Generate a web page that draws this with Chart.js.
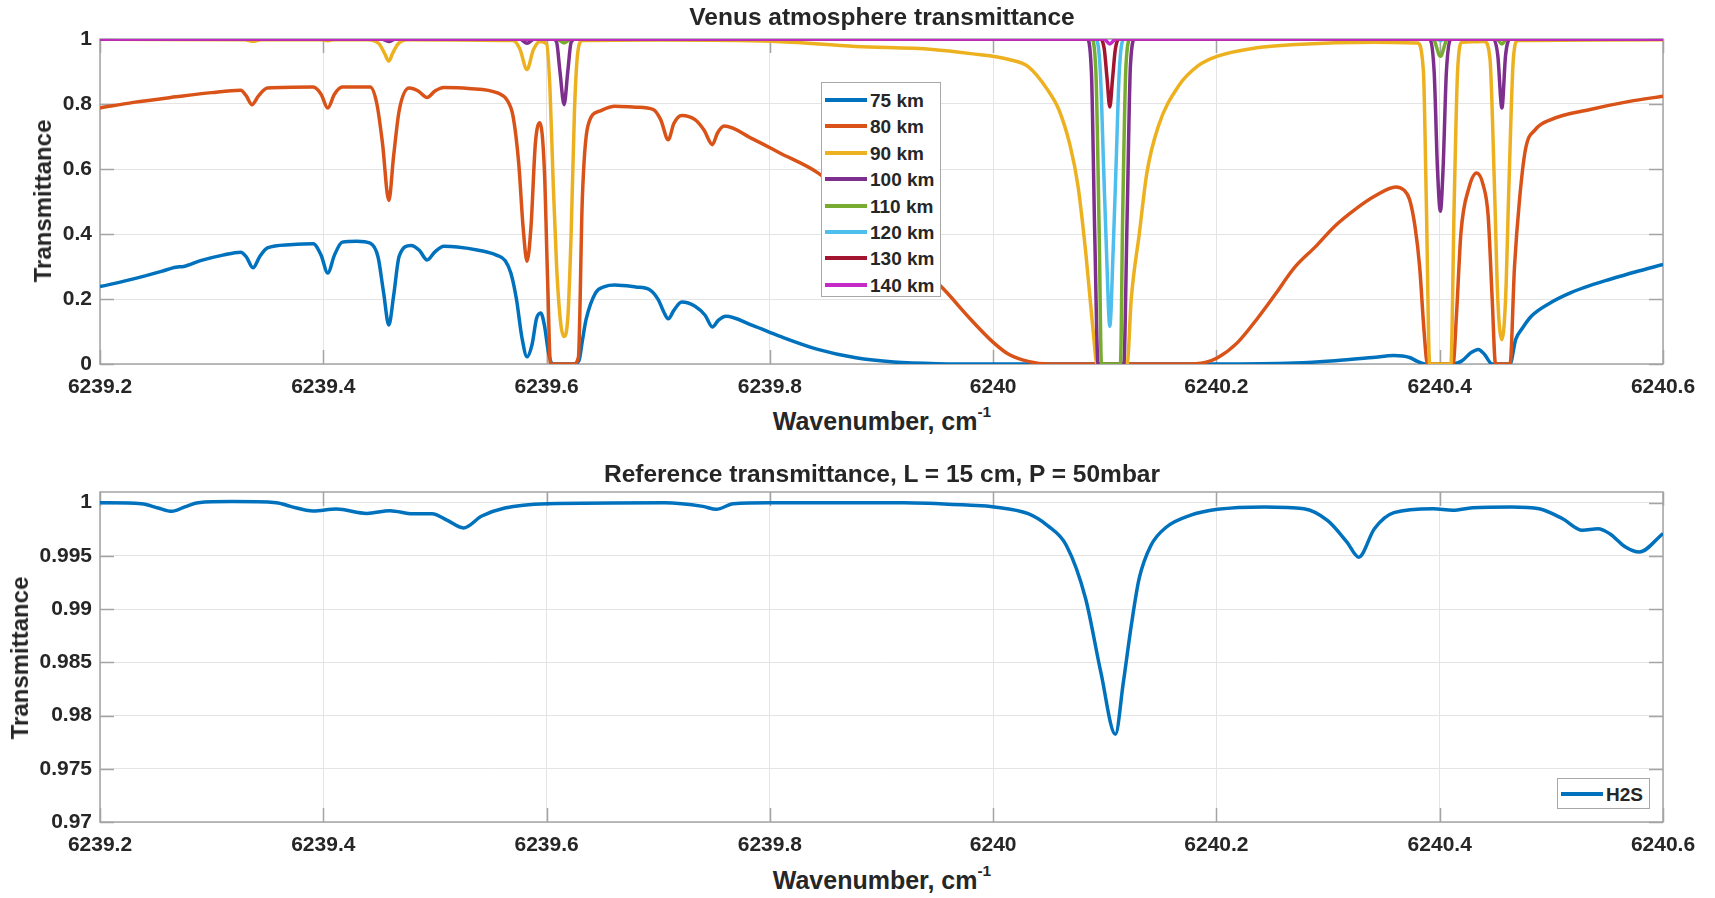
<!DOCTYPE html>
<html>
<head>
<meta charset="utf-8">
<script src="https://cdn.jsdelivr.net/npm/chart.js@4.4.1/dist/chart.umd.min.js"></script>
<style>
  html, body { margin: 0; padding: 0; background: #fff; }
  body {
    width: 1715px; height: 898px; position: relative; overflow: hidden;
    font-family: 'Liberation Sans', Arial, Helvetica, sans-serif;
    font-weight: bold; color: #262626;
  }
  canvas { position: absolute; left: 0; }
  .t { position: absolute; white-space: nowrap; transform: translate(-50%, -50%); line-height: 1; }
  .rot { transform: translate(-50%, -50%) rotate(-90deg); }
  sup { font-size: 62%; vertical-align: 0.8em; line-height: 0; }
  .legend { position: absolute; background: #fff; border: 1px solid #a8a8a8; box-sizing: border-box; }
  .swatch { position: absolute; height: 4px; }
  .lab { position: absolute; font-size: 19px; line-height: 1; transform: translateY(-50%); white-space: nowrap; }
</style>
</head>
<body>
<canvas id="venus" width="1715" height="400" style="top:0"></canvas>
<canvas id="reference" width="1715" height="398" style="top:460px"></canvas>

<div class="t" style="left:882px; top:17px; font-size:24.5px">Venus atmosphere transmittance</div>
<div class="t" style="left:882px; top:421px; font-size:25px">Wavenumber, cm<sup>-1</sup></div>
<div class="t rot" style="left:43px; top:201px; font-size:24px">Transmittance</div>

<div class="t" style="left:882px; top:474px; font-size:24.5px">Reference transmittance, L = 15 cm, P = 50mbar</div>
<div class="t" style="left:882px; top:880px; font-size:25px">Wavenumber, cm<sup>-1</sup></div>
<div class="t rot" style="left:20px; top:658px; font-size:24px">Transmittance</div>

<div id="legendVenus" class="legend" style="left:821px; top:82px; width:120px; height:215px"></div>
<div id="legendRef" class="legend" style="left:1557px; top:778px; width:93px; height:31px"></div>

<script>
// ---- axes ----
const xTickValues = [6239.2, 6239.4, 6239.6, 6239.8, 6240.0, 6240.2, 6240.4, 6240.6];
const xTickLabels = ['6239.2', '6239.4', '6239.6', '6239.8', '6240', '6240.2', '6240.4', '6240.6'];
const yTickValuesVenus = [0, 0.2, 0.4, 0.6, 0.8, 1];
const yTickLabelsVenus = ['0', '0.2', '0.4', '0.6', '0.8', '1'];
const yTickValuesRef = [0.97, 0.975, 0.98, 0.985, 0.99, 0.995, 1];
const yTickLabelsRef = ['0.97', '0.975', '0.98', '0.985', '0.99', '0.995', '1'];

// ---- series: [wavenumber (cm^-1), transmittance] ----
const km75 = [
  [6239.200, 0.238], [6239.230, 0.262], [6239.255, 0.285], [6239.268, 0.298], [6239.275, 0.300],
  [6239.290, 0.318], [6239.310, 0.335], [6239.326, 0.344], [6239.331, 0.330], [6239.337, 0.296],
  [6239.343, 0.330], [6239.350, 0.357], [6239.370, 0.367], [6239.391, 0.370], [6239.398, 0.335],
  [6239.404, 0.280], [6239.410, 0.335], [6239.417, 0.375], [6239.430, 0.378], [6239.442, 0.372],
  [6239.449, 0.330], [6239.454, 0.220], [6239.4587, 0.120], [6239.463, 0.210], [6239.468, 0.332],
  [6239.4786, 0.365], [6239.486, 0.350], [6239.493, 0.320], [6239.500, 0.345], [6239.508, 0.362],
  [6239.520, 0.360], [6239.539, 0.350], [6239.555, 0.335], [6239.563, 0.318], [6239.568, 0.280],
  [6239.573, 0.200], [6239.578, 0.080], [6239.5825, 0.022], [6239.587, 0.060], [6239.591, 0.140],
  [6239.5948, 0.157], [6239.598, 0.120], [6239.602, 0.030], [6239.6054, 0.000], [6239.624, 0.000],
  [6239.629, 0.010], [6239.632, 0.070], [6239.6354, 0.137], [6239.6439, 0.219], [6239.652, 0.238],
  [6239.661, 0.243], [6239.680, 0.237], [6239.692, 0.229], [6239.700, 0.198], [6239.705, 0.160],
  [6239.709, 0.139], [6239.714, 0.165], [6239.721, 0.191], [6239.733, 0.178], [6239.742, 0.150],
  [6239.7485, 0.114], [6239.754, 0.135], [6239.7605, 0.147], [6239.785, 0.118], [6239.8085, 0.086],
  [6239.843, 0.045], [6239.877, 0.019], [6239.911, 0.006], [6239.950, 0.001], [6240.000, 0.000],
  [6240.200, 0.000], [6240.270, 0.003], [6240.306, 0.010], [6240.340, 0.020], [6240.359, 0.026],
  [6240.373, 0.020], [6240.380, 0.008], [6240.387, 0.000], [6240.412, 0.000], [6240.420, 0.010],
  [6240.428, 0.035], [6240.4346, 0.045], [6240.440, 0.030], [6240.447, 0.000], [6240.463, 0.000],
  [6240.468, 0.075], [6240.474, 0.110], [6240.482, 0.147], [6240.500, 0.190], [6240.517, 0.219],
  [6240.535, 0.242], [6240.552, 0.260], [6240.575, 0.283], [6240.600, 0.306]
];
const km80 = [
  [6239.200, 0.788], [6239.230, 0.805], [6239.268, 0.822], [6239.300, 0.835], [6239.326, 0.842],
  [6239.331, 0.825], [6239.336, 0.798], [6239.342, 0.825], [6239.350, 0.849], [6239.391, 0.852],
  [6239.398, 0.830], [6239.404, 0.788], [6239.410, 0.830], [6239.417, 0.852], [6239.442, 0.852],
  [6239.448, 0.800], [6239.453, 0.680], [6239.4587, 0.503], [6239.463, 0.640], [6239.468, 0.780],
  [6239.477, 0.849], [6239.485, 0.840], [6239.493, 0.820], [6239.500, 0.840], [6239.508, 0.851],
  [6239.530, 0.848], [6239.556, 0.834], [6239.565, 0.810], [6239.570, 0.762], [6239.575, 0.620],
  [6239.579, 0.420], [6239.5825, 0.316], [6239.586, 0.420], [6239.590, 0.680], [6239.594, 0.742],
  [6239.598, 0.600], [6239.601, 0.250], [6239.6035, 0.000], [6239.6243, 0.000], [6239.6285, 0.020],
  [6239.632, 0.506], [6239.637, 0.732], [6239.6474, 0.778], [6239.661, 0.793], [6239.680, 0.790],
  [6239.6957, 0.783], [6239.7022, 0.752], [6239.709, 0.690], [6239.714, 0.740], [6239.721, 0.765],
  [6239.733, 0.752], [6239.741, 0.720], [6239.7485, 0.675], [6239.753, 0.710], [6239.759, 0.732],
  [6239.785, 0.692], [6239.8085, 0.650], [6239.843, 0.588], [6239.880, 0.480], [6239.920, 0.350],
  [6239.956, 0.229], [6239.980, 0.137], [6240.0006, 0.065], [6240.0143, 0.029], [6240.0314, 0.008],
  [6240.050, 0.000], [6240.170, 0.000], [6240.190, 0.005], [6240.201, 0.019], [6240.2186, 0.065],
  [6240.236, 0.137], [6240.2537, 0.219], [6240.264, 0.270], [6240.271, 0.301], [6240.289, 0.362],
  [6240.306, 0.424], [6240.324, 0.475], [6240.3415, 0.516], [6240.3607, 0.545], [6240.368, 0.535],
  [6240.373, 0.506], [6240.378, 0.420], [6240.382, 0.300], [6240.386, 0.100], [6240.389, 0.000],
  [6240.412, 0.000], [6240.415, 0.150], [6240.419, 0.403], [6240.426, 0.540], [6240.433, 0.588],
  [6240.439, 0.550], [6240.4434, 0.455], [6240.447, 0.200], [6240.450, 0.000], [6240.463, 0.000],
  [6240.467, 0.300], [6240.4715, 0.506], [6240.4768, 0.660], [6240.4856, 0.721], [6240.4997, 0.752],
  [6240.5348, 0.783], [6240.570, 0.808], [6240.600, 0.824]
];
const km90 = [
  [6239.200, 0.999], [6239.330, 0.998], [6239.337, 0.993], [6239.344, 0.998], [6239.398, 0.998],
  [6239.404, 0.995], [6239.410, 0.998], [6239.440, 0.998], [6239.450, 0.985], [6239.455, 0.955],
  [6239.4587, 0.932], [6239.462, 0.955], [6239.467, 0.985], [6239.475, 0.998], [6239.570, 0.995],
  [6239.576, 0.970], [6239.5825, 0.906], [6239.588, 0.965], [6239.594, 0.992], [6239.600, 0.985],
  [6239.603, 0.850], [6239.606, 0.550], [6239.609, 0.300], [6239.6125, 0.130], [6239.6155, 0.085],
  [6239.619, 0.140], [6239.622, 0.400], [6239.625, 0.780], [6239.628, 0.960], [6239.632, 0.995],
  [6239.700, 0.997], [6239.8016, 0.993], [6239.877, 0.977], [6239.9457, 0.968], [6239.980, 0.955],
  [6240.0143, 0.937], [6240.0314, 0.915], [6240.0485, 0.845], [6240.0588, 0.783], [6240.069, 0.671],
  [6240.076, 0.548], [6240.083, 0.341], [6240.0897, 0.097], [6240.093, 0.000], [6240.120, 0.000],
  [6240.1237, 0.200], [6240.131, 0.403], [6240.1377, 0.588], [6240.148, 0.732], [6240.166, 0.855],
  [6240.1834, 0.917], [6240.201, 0.947], [6240.236, 0.973], [6240.271, 0.983], [6240.3415, 0.990],
  [6240.380, 0.988], [6240.3854, 0.900], [6240.388, 0.500], [6240.391, 0.000], [6240.410, 0.000],
  [6240.413, 0.500], [6240.416, 0.900], [6240.420, 0.990], [6240.440, 0.992], [6240.445, 0.940],
  [6240.449, 0.550], [6240.452, 0.200], [6240.4557, 0.075], [6240.459, 0.200], [6240.462, 0.550],
  [6240.466, 0.940], [6240.470, 0.995], [6240.600, 0.998]
];
const km100 = [
  [6239.200, 1.000], [6239.452, 1.000], [6239.4587, 0.992], [6239.465, 1.000], [6239.576, 1.000],
  [6239.5825, 0.987], [6239.589, 1.000], [6239.606, 1.000], [6239.609, 0.990], [6239.612, 0.900],
  [6239.6157, 0.798], [6239.619, 0.900], [6239.622, 0.990], [6239.626, 1.000], [6240.084, 1.000],
  [6240.088, 0.900], [6240.091, 0.400], [6240.094, 0.000], [6240.117, 0.000], [6240.120, 0.450],
  [6240.123, 0.920], [6240.127, 1.000], [6240.390, 1.000], [6240.395, 0.900], [6240.398, 0.600],
  [6240.4006, 0.470], [6240.403, 0.600], [6240.406, 0.900], [6240.411, 1.000], [6240.448, 1.000],
  [6240.452, 0.950], [6240.4557, 0.788], [6240.459, 0.950], [6240.463, 1.000], [6240.600, 1.000]
];
const km110 = [
  [6239.200, 1.000], [6239.609, 1.000], [6239.6157, 0.988], [6239.622, 1.000], [6240.088, 1.000],
  [6240.092, 0.900], [6240.095, 0.400], [6240.097, 0.000], [6240.114, 0.000], [6240.116, 0.450],
  [6240.119, 0.920], [6240.123, 1.000], [6240.394, 1.000], [6240.4006, 0.947], [6240.407, 1.000],
  [6240.451, 1.000], [6240.4557, 0.985], [6240.460, 1.000], [6240.600, 1.000]
];
const km120 = [
  [6239.200, 1.000], [6240.092, 1.000], [6240.096, 0.900], [6240.099, 0.600], [6240.1015, 0.350],
  [6240.1045, 0.116], [6240.1075, 0.350], [6240.110, 0.600], [6240.113, 0.900], [6240.117, 1.000],
  [6240.397, 1.000], [6240.4006, 0.995], [6240.404, 1.000], [6240.600, 1.000]
];
const km130 = [
  [6239.200, 1.000], [6240.096, 1.000], [6240.0995, 0.970], [6240.102, 0.880], [6240.1045, 0.791],
  [6240.107, 0.880], [6240.1095, 0.970], [6240.113, 1.000], [6240.600, 1.000]
];
const km140 = [
  [6239.200, 1.000], [6240.099, 1.000], [6240.1045, 0.985], [6240.110, 1.000], [6240.600, 1.000]
];
const h2s = [
  [6239.200, 1.0000], [6239.237, 0.9999], [6239.252, 0.9995], [6239.2643, 0.99918], [6239.276, 0.9996],
  [6239.288, 1.0000], [6239.318, 1.0001], [6239.358, 1.0000], [6239.3706, 0.99965], [6239.391, 0.99922],
  [6239.4117, 0.9994], [6239.4391, 0.99899], [6239.4597, 0.99925], [6239.4803, 0.99896], [6239.4974, 0.99896],
  [6239.5112, 0.99833], [6239.5255, 0.99762], [6239.542, 0.99875], [6239.5626, 0.9995], [6239.6003, 0.9999],
  [6239.7056, 1.0000], [6239.740, 0.99965], [6239.752, 0.99937], [6239.7673, 0.9999], [6239.800, 1.0000],
  [6239.920, 1.0000], [6239.980, 0.99975], [6240.0006, 0.9996], [6240.0314, 0.99896], [6240.0485, 0.99786],
  [6240.0656, 0.99598], [6240.0828, 0.9910], [6240.0965, 0.98405], [6240.1095, 0.97824], [6240.1166, 0.9831],
  [6240.1237, 0.98844], [6240.1307, 0.99284], [6240.1413, 0.99598], [6240.1553, 0.99771], [6240.1764, 0.9988],
  [6240.201, 0.99937], [6240.2431, 0.9996], [6240.2783, 0.99943], [6240.2994, 0.99833], [6240.3169, 0.9963],
  [6240.3274, 0.99488], [6240.3415, 0.99755], [6240.359, 0.99906], [6240.3942, 0.99943], [6240.4118, 0.99928],
  [6240.4293, 0.99953], [6240.4645, 0.9996], [6240.4891, 0.99943], [6240.5101, 0.99849], [6240.5278, 0.9974],
  [6240.5418, 0.99755], [6240.5523, 0.99708], [6240.5664, 0.99583], [6240.5787, 0.99536], [6240.600, 0.9971]
];

const venusSeries = [km75, km80, km90, km100, km110, km120, km130, km140];
const venusLabels = ['75 km', '80 km', '90 km', '100 km', '110 km', '120 km', '130 km', '140 km'];
const venusColors = ['#0072BD', '#D95319', '#EDB120', '#7E2F8E', '#77AC30', '#4DBEEE', '#A2142F', '#C62AC6'];
const refLabels = ['H2S'];
const refColors = ['#0072BD'];

// ---- drawing helpers ----
const FONT = "'Liberation Sans', Arial, Helvetica, sans-serif";
const TEXT = '#262626';

// Box around the plot area with short inward tick marks on all four sides.
const axesFrame = {
  id: 'axesFrame',
  beforeDatasetsDraw(chart) {
    const { ctx, chartArea: a, scales: { x, y } } = chart;
    const L = 14;
    ctx.save();
    ctx.strokeStyle = '#a4a4a4';
    ctx.lineWidth = 1.5;
    ctx.beginPath();
    x.ticks.forEach(t => {
      const px = Math.round(x.getPixelForValue(t.value)) + 0.5;
      ctx.moveTo(px, a.bottom); ctx.lineTo(px, a.bottom - L);
      ctx.moveTo(px, a.top); ctx.lineTo(px, a.top + L);
    });
    y.ticks.forEach(t => {
      const py = Math.round(y.getPixelForValue(t.value)) + 0.5;
      ctx.moveTo(a.left, py); ctx.lineTo(a.left + L, py);
      ctx.moveTo(a.right, py); ctx.lineTo(a.right - L, py);
    });
    ctx.stroke();
    ctx.strokeRect(a.left, a.top, a.right - a.left, a.bottom - a.top);
    ctx.restore();
  }
};

function toPoints(pairs) { return pairs.map(p => ({ x: p[0], y: p[1] })); }

function makeChart(canvasId, series, labels, colors, yCfg, padTop) {
  const datasets = series.map((s, i) => ({
    label: labels[i],
    data: toPoints(s),
    borderColor: colors[i],
    backgroundColor: colors[i],
    borderWidth: 3.5,
    pointRadius: 0,
    fill: false,
    cubicInterpolationMode: 'monotone',
    order: series.length - i   // later altitudes are drawn on top
  }));
  return new Chart(document.getElementById(canvasId), {
    type: 'line',
    data: { datasets },
    options: {
      responsive: false,
      animation: false,
      devicePixelRatio: 1,
      events: [],
      layout: { padding: { top: padTop, right: 52, bottom: 0, left: 0 } },
      plugins: { legend: { display: false }, tooltip: { enabled: false }, title: { display: false } },
      scales: {
        x: {
          type: 'linear',
          min: xTickValues[0],
          max: xTickValues[xTickValues.length - 1],
          afterBuildTicks: sc => { sc.ticks = xTickValues.map(v => ({ value: v })); },
          afterFit: sc => { sc.height = 36; },
          grid: { color: '#e4e4e4', lineWidth: 1, drawTicks: false },
          border: { display: false },
          ticks: {
            padding: 11, color: TEXT, maxRotation: 0, autoSkip: false,
            font: { family: FONT, size: 21, weight: 'bold' },
            callback: (v, i) => xTickLabels[i]
          }
        },
        y: {
          type: 'linear',
          min: yCfg.min,
          max: yCfg.max,
          afterBuildTicks: sc => { sc.ticks = yCfg.values.map(v => ({ value: v })); },
          afterFit: sc => { sc.width = 100; },
          grid: { color: '#e4e4e4', lineWidth: 1, drawTicks: false },
          border: { display: false },
          ticks: {
            padding: 8, color: TEXT, autoSkip: false,
            font: { family: FONT, size: 21, weight: 'bold' },
            callback: (v, i) => yCfg.labels[i]
          }
        }
      }
    },
    plugins: [axesFrame]
  });
}

makeChart('venus', venusSeries, venusLabels, venusColors,
  { min: 0, max: 1, values: yTickValuesVenus, labels: yTickLabelsVenus }, 39);
makeChart('reference', [h2s], refLabels, refColors,
  { min: 0.97, max: 1.001, values: yTickValuesRef, labels: yTickLabelsRef }, 32);

// ---- legends ----
function buildLegend(id, labels, colors, firstY, step) {
  const box = document.getElementById(id);
  labels.forEach((lab, i) => {
    const cy = firstY + i * step;
    const sw = document.createElement('div');
    sw.className = 'swatch';
    sw.style.left = '3px';
    sw.style.width = '42px';
    sw.style.top = (cy - 2) + 'px';
    sw.style.background = colors[i];
    box.appendChild(sw);
    const tx = document.createElement('div');
    tx.className = 'lab';
    tx.style.left = '48px';
    tx.style.top = cy + 'px';
    tx.textContent = lab;
    box.appendChild(tx);
  });
}
buildLegend('legendVenus', venusLabels, venusColors, 17, 26.4);
buildLegend('legendRef', refLabels, refColors, 15, 0);
</script>
</body>
</html>
